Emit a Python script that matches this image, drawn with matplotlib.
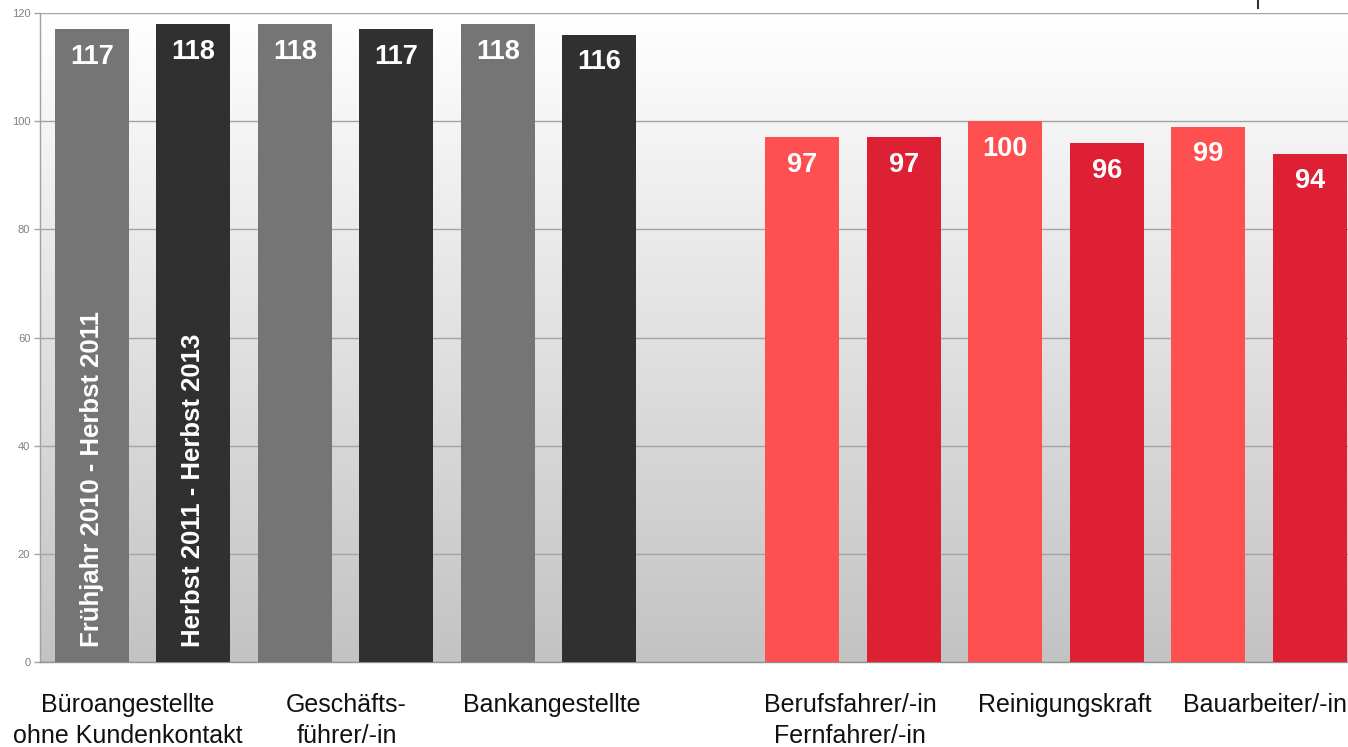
import numpy as np
import matplotlib
matplotlib.use("Agg")
import matplotlib.pyplot as plt
from matplotlib.lines import Line2D
from matplotlib.colors import LinearSegmentedColormap
import matplotlib.transforms as mtransforms

plt.rcParams['font.family'] = ['Liberation Sans', 'DejaVu Sans']

# ---- data ----
categories = ["Büroangestellte\nohne Kundenkontakt", "Geschäfts-\nführer/-in", "Bankangestellte",
              "Berufsfahrer/-in\nFernfahrer/-in", "Reinigungskraft", "Bauarbeiter/-in"]
period1_label = "Frühjahr 2010 - Herbst 2011"
period2_label = "Herbst 2011 - Herbst 2013"
period1_values = [117, 118, 118, 97, 100, 99]
period2_values = [118, 117, 116, 97, 96, 94]
group_is_red = [False, False, False, True, True, True]
yticks = [0, 20, 40, 60, 80, 100, 120]

# ---- styles / layout ----
gray1, gray2 = "#757575", "#303030"
red1, red2 = "#fe5050", "#de2035"
label_shift_px = [-15, 1, 3, -3, 9, 6]   # horizontal nudges of category labels

W, H = 1348, 747
fig = plt.figure(figsize=(W / 100, H / 100), dpi=100)
slot_px = 101.5
x0_px = 40
ax_bottom_px, ax_top_px = 662, 13
ax = fig.add_axes([x0_px / W, (H - ax_bottom_px) / H,
                   13.02 * slot_px / W, (ax_bottom_px - ax_top_px) / H])

# gradient background
grad = np.linspace(1.0, 0.0, 256).reshape(-1, 1)
cmap = LinearSegmentedColormap.from_list("bg", ["#c3c3c3", "#ffffff"])
ax.imshow(grad, cmap=cmap, extent=[0, 1, 0, 1], transform=ax.transAxes,
          aspect="auto", zorder=0, origin="upper")

# positions: group g occupies slots 2g, 2g+1, with one empty slot after group 3
pos1, pos2 = [], []
for g in range(len(categories)):
    base = 2 * g + (1 if g >= 3 else 0)
    pos1.append(base)
    pos2.append(base + 1)

bw = 0.73
c1 = [red1 if r else gray1 for r in group_is_red]
c2 = [red2 if r else gray2 for r in group_is_red]
b1 = ax.bar(pos1, period1_values, width=bw, color=c1, zorder=3)
b2 = ax.bar(pos2, period2_values, width=bw, color=c2, zorder=3)

for bars, vals in ((b1, period1_values), (b2, period2_values)):
    for rect, v in zip(bars, vals):
        ax.annotate(f"{v}", (rect.get_x() + rect.get_width() / 2, v),
                    xytext=(0, -20), textcoords="offset points",
                    ha="center", va="center", color="white",
                    fontsize=19.5, fontweight="bold", zorder=5)

# period labels inside the first two bars
ax.text(pos1[0], 2.8, period1_label, rotation=90, ha="center", va="bottom",
        color="white", fontsize=18.5, fontweight="bold", zorder=5)
ax.text(pos2[0], 2.8, period2_label, rotation=90, ha="center", va="bottom",
        color="white", fontsize=18.5, fontweight="bold", zorder=5)

ax.set_xlim(-0.51, -0.51 + 13.02)
ax.set_ylim(0, 120)
ax.set_yticks(yticks)
ax.set_yticklabels([str(t) for t in yticks], fontsize=8, color="#808080")
ax.yaxis.grid(True, color="#a4a4a4", linewidth=1, zorder=1)
ax.set_axisbelow(True)
ax.tick_params(axis="y", length=4, width=1, color="#a4a4a4", pad=3)

# category labels below the axis
ax.set_xticks([])
centers = [(a + b) / 2 for a, b in zip(pos1, pos2)]
for cx, lab, sh in zip(centers, categories, label_shift_px):
    tr = mtransforms.offset_copy(ax.get_xaxis_transform(), fig=fig, x=sh, y=-31, units="dots")
    ax.text(cx, 0, lab, transform=tr, ha="center", va="top", fontsize=18,
            color="#111111", linespacing=1.38, clip_on=False)

for s in ("top", "right"):
    ax.spines[s].set_visible(False)
ax.spines["left"].set_color("#a0a0a0")
ax.spines["bottom"].set_color("#909090")
ax.spines["left"].set_linewidth(1)
ax.spines["bottom"].set_linewidth(1)

# small tick at top right (cut-off element of original)
fig.add_artist(Line2D([1258 / W, 1258 / W], [1.0, 1 - 8 / H], color="#333333", linewidth=1.5))

fig.savefig("out.png", dpi=100)
